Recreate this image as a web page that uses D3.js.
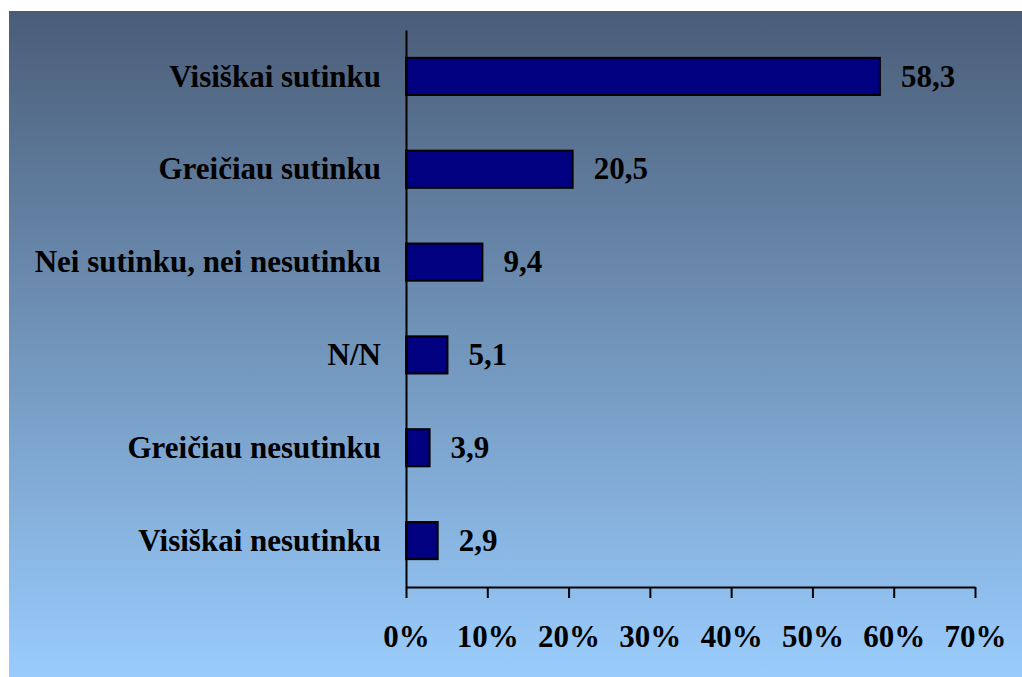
<!DOCTYPE html>
<html>
<head>
<meta charset="utf-8">
<script src="https://cdn.jsdelivr.net/npm/d3@7"></script>
<style>
  body { margin: 0; background: #fff; }
  text { font-family: "Liberation Serif", "Times New Roman", serif; font-weight: bold; }
</style>
</head>
<body>
<div id="chart"></div>
<script>
// answers, top to bottom
const categories = [
  "Visiškai sutinku",
  "Greičiau sutinku",
  "Nei sutinku, nei nesutinku",
  "N/N",
  "Greičiau nesutinku",
  "Visiškai nesutinku"
];
// bar lengths as drawn in the picture (last two bars are 2.9 and 3.9 long)
const values = [58.3, 20.5, 9.4, 5.1, 2.9, 3.9];
// labels as printed next to the bars
const valueLabels = ["58,3", "20,5", "9,4", "5,1", "3,9", "2,9"];
const xTicks = [0, 10, 20, 30, 40, 50, 60, 70];

let width = 1022;
let height = 677;
let margin = { top: 30, right: 47, bottom: 90, left: 406 };

let svg = d3.select("#chart")
  .append("svg")
  .attr("width", width)
  .attr("height", height);

let grad = svg.append("defs").append("linearGradient")
  .attr("id", "bg")
  .attr("x1", 0).attr("y1", 0)
  .attr("x2", 0).attr("y2", 1);
grad.append("stop").attr("offset", "0%").attr("stop-color", "#4a5d78");
grad.append("stop").attr("offset", "100%").attr("stop-color", "#99ccfd");

svg.append("rect")
  .attr("x", 9)
  .attr("y", 11)
  .attr("width", width - 9)
  .attr("height", height - 11)
  .attr("fill", "url(#bg)");

let x = d3.scaleLinear()
  .domain([0, 70])
  .range([margin.left, width - margin.right]);

let y = d3.scaleBand()
  .domain(categories)
  .range([margin.top, height - margin.bottom])
  .paddingInner(0.6)
  .paddingOuter(0.3);

// bars
svg.append("g")
  .selectAll("rect")
  .data(values)
  .enter()
  .append("rect")
  .attr("x", x(0))
  .attr("y", function (d, i) { return y(categories[i]); })
  .attr("width", function (d) { return x(d) - x(0); })
  .attr("height", y.bandwidth())
  .attr("fill", "#000080")
  .attr("stroke", "#000")
  .attr("stroke-width", 2);

// value labels
svg.append("g")
  .selectAll("text")
  .data(values)
  .enter()
  .append("text")
  .attr("x", function (d) { return x(d) + 21; })
  .attr("y", function (d, i) { return y(categories[i]) + y.bandwidth() / 2; })
  .attr("dy", "0.33em")
  .style("font-size", "31px")
  .attr("fill", "#000")
  .text(function (d, i) { return valueLabels[i]; });

// x axis
let xAxis = svg.append("g")
  .attr("transform", "translate(0," + (height - margin.bottom) + ")")
  .call(d3.axisBottom(x)
    .tickValues(xTicks)
    .tickSize(11)
    .tickSizeOuter(0)
    .tickFormat(function (d) { return d + "%"; }));

xAxis.selectAll("path, line").attr("stroke", "#000").attr("stroke-width", 2);
xAxis.selectAll("text")
  .attr("y", 60)
  .attr("dy", 0)
  .attr("fill", "#000")
  .style("font-size", "31px")
  .style("font-family", "Liberation Serif, serif")
  .style("font-weight", "bold");

// y axis
let yAxis = svg.append("g")
  .attr("transform", "translate(" + margin.left + ",0)")
  .call(d3.axisLeft(y)
    .tickSize(0)
    .tickSizeOuter(0)
    .tickPadding(25));

yAxis.select("path").attr("stroke", "#000").attr("stroke-width", 2);
yAxis.selectAll("text")
  .attr("dy", "0.33em")
  .attr("fill", "#000")
  .style("font-size", "31px")
  .style("font-family", "Liberation Serif, serif")
  .style("font-weight", "bold");
</script>
</body>
</html>
